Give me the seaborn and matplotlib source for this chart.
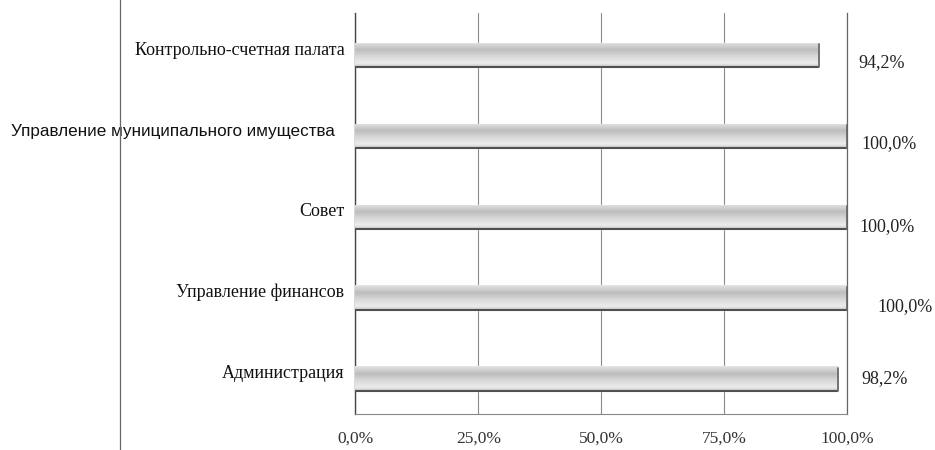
"""
Horizontal bar chart: budget execution by administrator (scan recreation).
"""

import numpy as np
import pandas as pd
import matplotlib
matplotlib.use("Agg")
import matplotlib.pyplot as plt
from matplotlib.lines import Line2D
from matplotlib.colors import LinearSegmentedColormap
from matplotlib.ticker import FuncFormatter, FixedLocator
import seaborn as sns

# data, top to bottom as drawn
categories = [
    "Контрольно-счетная палата",
    "Управление муниципального имущества",
    "Совет",
    "Управление финансов",
    "Администрация",
]
values = [94.2, 100.0, 100.0, 100.0, 98.2]
value_labels = ["94,2%", "100,0%", "100,0%", "100,0%", "98,2%"]
x_ticks = [0, 25, 50, 75, 100]


def pct(v, _pos=None):
    return f"{v:.1f}%".replace(".", ",")


def main() -> None:
    sns.set_style("white")
    plt.rcParams["font.family"] = ["Liberation Serif", "DejaVu Serif"]

    df = pd.DataFrame({"name": categories, "value": values})

    fig = plt.figure(figsize=(9.35, 4.5), dpi=100)
    ax = fig.add_axes([0.380, 0.080, 0.526, 0.891])

    sns.barplot(data=df, x="value", y="name", orient="h", color="#d8d8d8",
                width=0.3, saturation=1, ax=ax, zorder=2)

    # scanned 3d look: gray band on top, lighter below, dark bottom edge
    cmap = LinearSegmentedColormap.from_list(
        "bar", [(0.0, "#e4e4e4"), (0.3, "#bdbdbd"), (0.55, "#d6d6d6"),
                (0.85, "#ececec"), (1.0, "#c8c8c8")])
    grad = np.linspace(0, 1, 64).reshape(-1, 1).repeat(2, axis=1)
    for p in ax.patches:
        x0, y0 = p.get_x(), p.get_y()
        w, h = p.get_width(), p.get_height()
        im = ax.imshow(grad, cmap=cmap, extent=(x0, x0 + w, y0 + h, y0),
                       origin="upper", aspect="auto", zorder=3,
                       interpolation="bilinear")
        im.set_clip_path(p)
        ax.plot([x0, x0 + w], [y0 + h, y0 + h], color="#505050", lw=1.5,
                zorder=4, solid_capstyle="butt")
        ax.plot([x0 + w, x0 + w], [y0 + h * 0.05, y0 + h], color="#6a6a6a",
                lw=1.3, zorder=4)

    ax.set_xlim(0, 100)
    ax.set_ylim(4.44, -0.52)
    ax.xaxis.set_major_locator(FixedLocator(x_ticks))
    ax.xaxis.set_major_formatter(FuncFormatter(pct))
    ax.grid(axis="x", color="#8a8a8a", lw=0.8)
    ax.set_axisbelow(True)

    ax.spines["top"].set_visible(False)
    ax.spines["left"].set_color("#444444")
    ax.spines["left"].set_linewidth(1.0)
    ax.spines["right"].set_color("#666666")
    ax.spines["right"].set_linewidth(0.9)
    ax.spines["bottom"].set_color("#888888")
    ax.spines["bottom"].set_linewidth(0.8)

    ax.set_xlabel("")
    ax.set_ylabel("")
    ax.tick_params(axis="x", labelsize=12.5, length=4, color="#888888",
                   direction="inout", pad=10, colors="#333333")
    ax.tick_params(axis="x", color="#888888")
    ax.tick_params(axis="y", length=0, labelleft=False)

    # category labels left of the axis, slightly above bar centre
    for i, name in enumerate(categories):
        kw = dict(fontsize=13, family=["Liberation Serif", "DejaVu Serif"])
        xpos = -0.022
        if name.startswith("Управление муниципального"):
            kw = dict(fontsize=12.3, family=["Liberation Sans", "DejaVu Sans"])
            xpos = -0.041
        ax.text(xpos, i - 0.06, name, transform=ax.get_yaxis_transform(),
                ha="right", va="center", color="#111111", **kw)

    # value labels right of the plot
    offsets = [(0.022, 0.09), (0.030, 0.09), (0.026, 0.12), (0.061, 0.11), (0.028, 0.0)]
    for i, (lab, (dx, dy)) in enumerate(zip(value_labels, offsets)):
        ax.text(1 + dx, i + dy, lab, transform=ax.get_yaxis_transform(),
                fontsize=13, va="center", ha="left", color="#222222")

    # page border line from the scan
    fig.add_artist(Line2D([0.128, 0.128], [0.0, 1.0], color="#666666", lw=0.9,
                          transform=fig.transFigure))

    fig.savefig("out.png", dpi=100)


if __name__ == "__main__":
    main()
